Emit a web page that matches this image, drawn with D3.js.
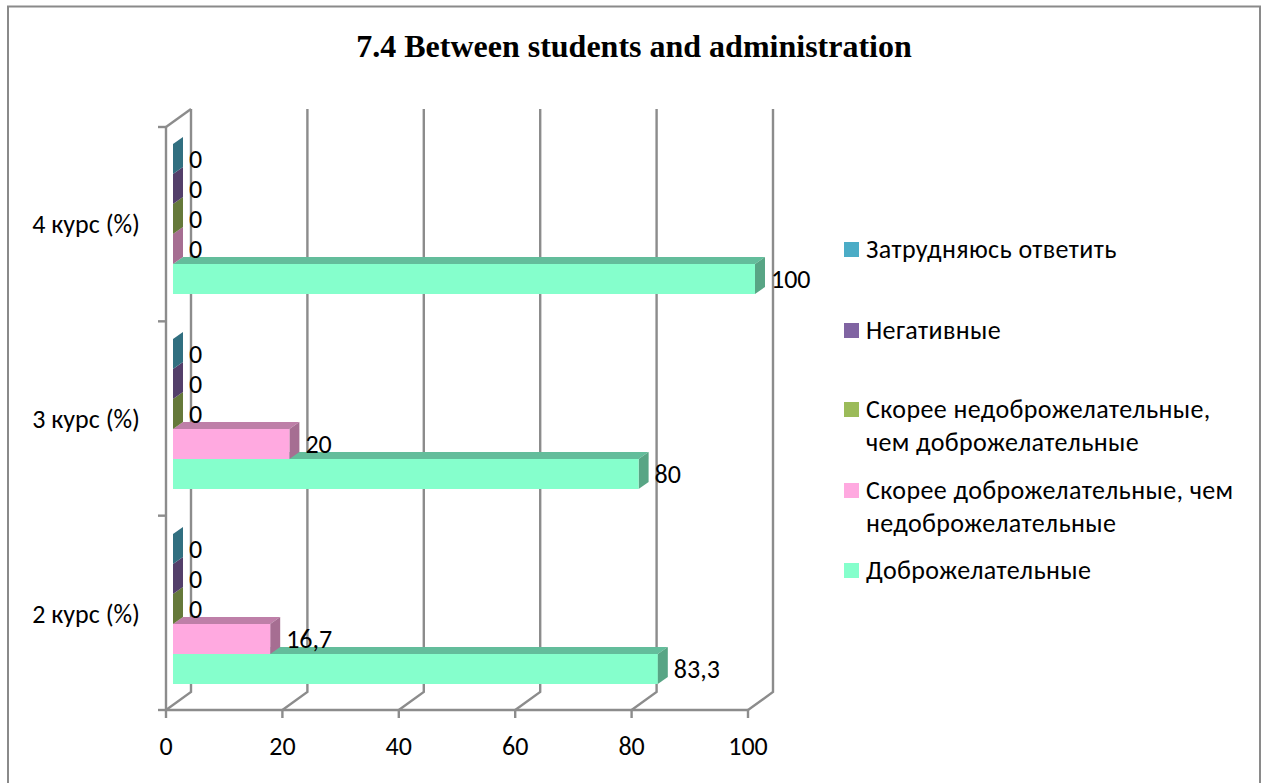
<!DOCTYPE html>
<html><head><meta charset="utf-8">
<script src="https://cdn.jsdelivr.net/npm/d3@7"></script>
<style>html,body{margin:0;padding:0;background:#fff}svg{display:block}</style>
</head><body><svg id="c" width="1265" height="783"></svg>
<script>
const categories = ["4 курс (%)","3 курс (%)","2 курс (%)"];
const seriesNames = ["Доброжелательные","Скорее доброжелательные, чем недоброжелательные","Скорее недоброжелательные, чем доброжелательные","Негативные","Затрудняюсь ответить"];
const friendly = [100,80,83.3];
const ratherFriendly = [0,20,16.7];
const ratherUnfriendly = [0,0,0];
const negative = [0,0,0];
const unsure = [0,0,0];
const xTicks = [0,20,40,60,80,100];
const seriesValues = [friendly,ratherFriendly,ratherUnfriendly,negative,unsure];
const seriesColors = ["#85ffcc","#ffa9e0","#9bbb59","#8064a2","#4bacc6"];
const seriesTop = ["#63bd9b","#be7fa8","#748c43","#604b7a","#387f93"];
const seriesSide = ["#58a585","#a66e92","#65793a","#533f6a","#316f80"];
const seriesFront = ["#85ffcc","#ffa9e0","#64753a","#533f6a","#316f80"];
const legendLines = [
  ["Затрудняюсь ответить"],["Негативные"],
  ["Скорее недоброжелательные,","чем доброжелательные"],
  ["Скорее доброжелательные, чем","недоброжелательные"],
  ["Доброжелательные"]];
const legendColorIdx = [4,3,2,1,0];
const legendY = [250,331,410,491,571];
const labels = (i,v)=>String(v).replace(".",",");

const svg = d3.select("#c");
const font = "Carlito, Calibri, 'Open Sans', 'Noto Sans', sans-serif";
const grey = "#8c8c8c";
svg.append("path").attr("d","M8,783V6.5H1260V783").attr("fill","none").attr("stroke","#8a8a8a").attr("stroke-width",2);
svg.append("text").attr("x",634).attr("y",57).attr("text-anchor","middle")
  .attr("font-family","'Liberation Serif','Times New Roman',serif").attr("font-weight","bold").attr("font-size",32).attr("fill","#000")
  .text("7.4 Between students and administration");

const x = d3.scaleLinear().domain([0,100]).range([166,748]);
const yAxis = d3.scaleBand().domain(categories).range([127,710]);
const y = d3.scaleBand().domain(categories).range([125,710]);
const dx=25, dy=-18;           // wall depth
const bx=7, bdx=10, bdy=-7;    // bar offset and depth
const barH = 30, barBottomPad = 26;

const g = svg.append("g").attr("fill","none").attr("stroke",grey).attr("stroke-width",2.4);
const yBottom = yAxis.range()[1], yTop = yAxis.range()[0];
xTicks.forEach(t=>{
  const X=x(t);
  g.append("path").attr("d",`M${X},${yBottom}L${X+dx},${yBottom+dy}L${X+dx},${yTop+dy}`);
  g.append("path").attr("d",`M${X},${yBottom}v8`);
});
g.append("path").attr("d",`M${x(0)},${yTop}L${x(0)},${yBottom}L${x(100)},${yBottom}`);
g.append("path").attr("d",`M${x(0)},${yTop}L${x(0)+dx},${yTop+dy}`);
[...categories.map(c=>yAxis(c)),yBottom].forEach(v=>g.append("path").attr("d",`M${x(0)-8},${v}H${x(0)}`));

categories.forEach((c,ci)=>{
  const base = y(c)+y.bandwidth()-barBottomPad;
  seriesValues.forEach((vals,si)=>{
    const v = vals[ci];
    const x0 = x(0)+bx, x1 = x(v)+bx;
    const yb = base - si*barH, yt = yb-barH;
    const bar = svg.append("g");
    bar.append("path").attr("fill",seriesTop[si])
      .attr("d",`M${x0},${yt}L${x0+bdx},${yt+bdy}L${x1+bdx},${yt+bdy}L${x1},${yt}Z`);
    bar.append("path").attr("fill",seriesSide[si])
      .attr("d",`M${x1},${yt}L${x1+bdx},${yt+bdy}L${x1+bdx},${yb+bdy}L${x1},${yb}Z`);
    if (v>0) bar.append("rect").attr("x",x0).attr("y",yt).attr("width",x1-x0).attr("height",barH).attr("fill",seriesFront[si]);
    svg.append("text").attr("x",x1+bdx+6).attr("y",yb-6).attr("font-family",font).attr("font-size",26).attr("fill","#000").text(labels(si,v));
  });
});

xTicks.forEach(t=>svg.append("text").attr("x",x(t)).attr("y",755).attr("text-anchor","middle").attr("font-family",font).attr("font-size",26).attr("fill","#000").text(t));
categories.forEach(c=>svg.append("text").attr("x",140).attr("y",y(c)+y.bandwidth()/2+10.5).attr("text-anchor","end").attr("font-family",font).attr("font-size",26).attr("fill","#000").text(c));

legendLines.forEach((ls,i)=>{
  svg.append("rect").attr("x",844).attr("y",legendY[i]-8).attr("width",15).attr("height",15).attr("fill",seriesColors[legendColorIdx[i]]);
  ls.forEach((t,j)=>svg.append("text").attr("x",866).attr("y",legendY[i]+8+j*33).attr("font-family",font).attr("font-size",26).attr("letter-spacing",0.4).attr("fill","#000").text(t));
});
</script></body></html>
